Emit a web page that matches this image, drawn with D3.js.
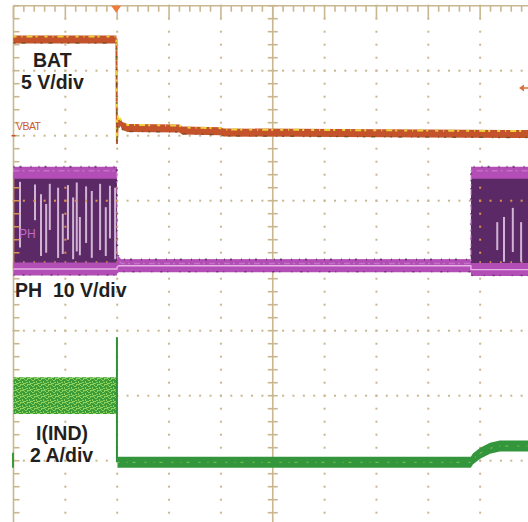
<!DOCTYPE html>
<html><head><meta charset="utf-8">
<script src="https://cdn.jsdelivr.net/npm/d3@7"></script>
<style>html,body{margin:0;padding:0;background:#fff;overflow:hidden}svg{display:block}</style>
</head><body>
<script>
// ---- data (time in divisions, values in channel units) ----
const batT = [0, 1.985, 1.995, 2.01, 2.03, 2.06, 2.1, 2.2, 3.2, 3.25, 4.0, 4.05, 10];
const batV = [7.4, 7.4, -0.6, 1.3, 0.9, 1.05, 0.75, 0.6, 0.55, 0.4, 0.35, 0.25, 0.12]; // volts

const phT  = [0, 1.995, 2.0, 2.03, 2.08, 8.82, 8.825, 10];
const phHi = [14.3, 14.3, 1.0, 0.5, 0.05, 0.05, 14.3, 14.3]; // volts (upper envelope)
const phLo = [-0.5, -0.5, -0.2, 0.0, 0.0, 0.0, -0.6, -0.6];  // volts (lower envelope)
const phStreakT   = [0.125, 0.415, 0.53, 0.63, 0.70, 0.86, 0.95, 1.05, 1.15, 1.22, 1.28, 1.40, 1.51, 1.67, 1.78, 1.86, 1.96, 9.33, 9.46, 9.63, 9.79];
const phStreakTop = [12.9, 12.5, 11.0, 9.5, 12.6, 12.0, 8.0, 12.4, 10.5, 12.8, 7.5, 12.2, 11.5, 12.6, 9.0, 12.3, 12.0, 6.7, 7.5, 8.9, 6.7];
const phStreakBot = [2.8, 7.0, 1.5, 2.0, 5.5, 1.2, 1.8, 4.0, 1.0, 2.2, 1.6, 3.5, 1.2, 2.4, 1.5, 4.2, 1.0, 2.4, 0.6, 2.1, 0.6];

const indNoiseT  = [0, 1.99];
const indNoiseHi = [2.57, 2.57]; // amps
const indNoiseLo = [1.44, 1.44];
const indSpike   = [1.995, 3.8, -0.05]; // t, top, bottom
const indT = [2.005, 8.82, 8.86, 9.0, 9.19, 9.38, 10];
const indA = [-0.05, -0.05, 0.05, 0.23, 0.38, 0.45, 0.45];

const labels = [
  {txt: "BAT", x: 33, y: 67},
  {txt: "5 V/div", x: 21, y: 89},
  {txt: "PH  10 V/div", x: 15, y: 297},
  {txt: "I(IND)", x: 36, y: 440},
  {txt: "2 A/div", x: 30, y: 462}
];
const triggerT = 1.98;
const trigLevelV = 3.67;

// ---- layout ----
const W = 528, H = 522;
const X0 = 13.5, DX = 51.85, Y0 = 5.7, DY = 65;
const x = d3.scaleLinear().domain([0, 10]).range([X0, X0 + 10 * DX]);
const yBat = d3.scaleLinear().domain([0, 5]).range([Y0 + 2 * DY, Y0 + DY]);
const yPh  = d3.scaleLinear().domain([0, 10]).range([Y0 + 4 * DY, Y0 + 3 * DY]);
const yInd = d3.scaleLinear().domain([0, 2]).range([Y0 + 7 * DY, Y0 + 6 * DY]);

// band of constant vertical thickness along a trace (thin on vertical edges, like a scope trace)
const band = (yf, half) => d3.area().x(d => x(d.t)).y0(d => yf(d) + half).y1(d => yf(d) - half);

const svg = d3.select("body").append("svg").attr("width", W).attr("height", H);
const defs = svg.append("defs");
const pat = defs.append("pattern").attr("id", "gnoise").attr("patternUnits", "userSpaceOnUse")
  .attr("width", 7).attr("height", 6);
pat.append("rect").attr("width", 7).attr("height", 6).attr("fill", "#3c9c3a");
[[0,0,3,1],[4,2,2,1],[1,3,1,2],[5,4,2,1],[2,5,3,1],[3,1,1,1],[6,0,1,2]].forEach(r =>
  pat.append("rect").attr("x", r[0]).attr("y", r[1]).attr("width", r[2]).attr("height", r[3]).attr("fill", "#8fd25a"));

// ---- graticule ----
const gc = "#c9b78f";
const grid = svg.append("g");
const minX = DX / 5, minY = DY / 5;
const dots = [];
for (let i = 1; i <= 9; i++) { if (i === 5) continue;
  for (let j = 0; j <= 40; j++) dots.push([x(i), Y0 + j * minY]); }
for (let r = 1; r <= 7; r++) { if (r === 4) continue;
  for (let k = 0; k <= 50; k++) dots.push([X0 + k * minX, Y0 + r * DY]); }
grid.selectAll("rect.dot").data(dots).join("rect").attr("class", "dot")
  .attr("x", d => d[0] - 1).attr("y", d => d[1] - 1).attr("width", 2).attr("height", 2).attr("fill", gc);
const lines = [];
lines.push([X0, Y0, W, Y0]);
lines.push([X0, Y0, X0, H]);
lines.push([x(5), Y0, x(5), H]);
lines.push([X0, Y0 + 4 * DY, W, Y0 + 4 * DY]);
for (let k = 0; k <= 50; k++) {
  const xx = X0 + k * minX;
  lines.push([xx, Y0, xx, Y0 + (k % 5 === 0 ? 13 : 6)]);
  lines.push([xx, Y0 + 4 * DY - 4.5, xx, Y0 + 4 * DY + 4.5]);
}
for (let j = 0; j <= 40; j++) {
  const yy = Y0 + j * minY;
  lines.push([X0, yy, X0 + 6, yy]);
  lines.push([x(5) - 5, yy, x(5) + 5, yy]);
}
grid.selectAll("line").data(lines).join("line")
  .attr("x1", d => d[0]).attr("y1", d => d[1]).attr("x2", d => d[2]).attr("y2", d => d[3])
  .attr("stroke", gc).attr("stroke-width", 1.6);

// ---- PH trace ----
const phPts = phT.map((t, i) => ({t, hi: phHi[i], lo: phLo[i]}));
const phArea = d3.area().x(d => x(d.t)).y0(d => yPh(d.lo)).y1(d => yPh(d.hi));
svg.append("path").datum(phPts).attr("d", phArea).attr("fill", "#5b2a66");
const streaks = phStreakT.map((t, i) => ({t, a: phStreakTop[i], b: phStreakBot[i]}));
svg.selectAll("line.streak").data(streaks).join("line").attr("class", "streak")
  .attr("x1", d => x(d.t)).attr("x2", d => x(d.t)).attr("y1", d => yPh(d.a)).attr("y2", d => yPh(d.b))
  .attr("stroke", "#e6cde8").attr("stroke-width", 2).attr("opacity", 0.85);
defs.append("clipPath").attr("id", "phclip").append("path").datum(phPts).attr("d", phArea);
svg.append("g").attr("clip-path", "url(#phclip)").selectAll("rect").data(dots)
  .join("rect").attr("x", d => d[0] - 1).attr("y", d => d[1] - 1).attr("width", 2).attr("height", 2).attr("fill", "#d9924f");
svg.append("g").attr("clip-path", "url(#phclip)").selectAll("line").data(lines)
  .join("line").attr("x1", d => d[0]).attr("y1", d => d[1]).attr("x2", d => d[2]).attr("y2", d => d[3])
  .attr("stroke", "#d9924f").attr("stroke-width", 1.6);
svg.append("path").datum(phPts).attr("d", band(d => yPh(d.hi), 6)).attr("fill", "#b24eb5");
svg.append("path").datum(phPts).attr("d", band(d => yPh(d.lo), 6.5)).attr("fill", "#b24eb5");
const phHiLine = d3.line().x(d => x(d.t)).y(d => yPh(d.hi));
const phLoLine = d3.line().x(d => x(d.t)).y(d => yPh(d.lo));
svg.append("path").datum(phPts).attr("d", phHiLine).attr("fill", "none").attr("stroke", "#4a1f50")
  .attr("stroke-width", 2).attr("transform", "translate(0,-6)").attr("stroke-dasharray", "1,5,2,9,1,7").attr("opacity", 0.7);
svg.append("path").datum(phPts).attr("d", phHiLine).attr("fill", "none").attr("stroke", "#d28ad4")
  .attr("stroke-width", 1.5).attr("transform", "translate(0,-2)").attr("stroke-dasharray", "6,3,2,4").attr("opacity", 0.6);
svg.append("path").datum(phPts).attr("d", phLoLine).attr("fill", "none").attr("stroke", "#e7b4e6").attr("stroke-width", 1.4);
svg.append("path").datum(phPts).attr("d", phLoLine).attr("fill", "none").attr("stroke", "#3a1840")
  .attr("stroke-width", 1.5).attr("transform", "translate(0,6)").attr("stroke-dasharray", "1,8,2,5,1,11").attr("opacity", 0.6);

// ---- BAT trace ----
const batPts = batT.map((t, i) => ({t, v: batV[i]}));
const batLine = d3.line().x(d => x(d.t)).y(d => yBat(d.v));
svg.append("path").datum(batPts).attr("d", band(d => yBat(d.v), 4)).attr("fill", "#c4532c");
svg.append("path").datum(batPts).attr("d", batLine).attr("fill", "none").attr("stroke", "#c4532c").attr("stroke-width", 2);
svg.append("path").datum(batPts).attr("d", batLine).attr("fill", "none").attr("stroke", "#f1df3c")
  .attr("stroke-width", 2).attr("transform", "translate(0,-3)").attr("stroke-dasharray", "3,5,1,4,6,3,2,7").attr("opacity", 0.9);
svg.append("path").datum(batPts).attr("d", batLine).attr("fill", "none").attr("stroke", "#5a4a20")
  .attr("stroke-width", 1.5).attr("transform", "translate(0,3.5)").attr("stroke-dasharray", "2,6,4,9,1,5").attr("opacity", 0.7);

// ---- I(IND) trace ----
const indN = indNoiseT.map((t, i) => ({t, hi: indNoiseHi[i], lo: indNoiseLo[i]}));
svg.append("path").datum(indN)
  .attr("d", d3.area().x(d => x(d.t)).y0(d => yInd(d.lo)).y1(d => yInd(d.hi)))
  .attr("fill", "url(#gnoise)");
svg.append("line").attr("x1", x(indSpike[0])).attr("x2", x(indSpike[0]))
  .attr("y1", yInd(indSpike[1])).attr("y2", yInd(indSpike[2])).attr("stroke", "#2f8f38").attr("stroke-width", 2);
const indPts = indT.map((t, i) => ({t, a: indA[i]}));
const indLine = d3.line().x(d => x(d.t)).y(d => yInd(d.a));
svg.append("path").datum(indPts).attr("d", band(d => yInd(d.a), 5.5)).attr("fill", "#34963c");
svg.append("path").datum(indPts).attr("d", indLine).attr("fill", "none").attr("stroke", "#8fd25a")
  .attr("stroke-width", 1).attr("stroke-dasharray", "2,7,1,5,3,9").attr("opacity", 0.8);

// ---- markers ----
const tx = x(triggerT);
svg.append("path").attr("d", `M${tx - 5},${Y0} L${tx + 5},${Y0} L${tx},${Y0 + 7} Z`).attr("fill", "#f07a3a");
const ay = yBat(trigLevelV);
svg.append("path").attr("d", `M${W - 9},${ay} L${W - 4},${ay - 3.5} L${W - 4},${ay + 3.5} Z M${W - 5},${ay - 0.7} h6 v1.4 h-6 Z`).attr("fill", "#e0703a");
svg.append("line").attr("x1", X0 - 2).attr("x2", X0 + 2).attr("y1", yBat(0)).attr("y2", yBat(0)).attr("stroke", "#d0502a").attr("stroke-width", 1.5);
svg.append("rect").attr("x", X0 - 1.5).attr("y", yInd(0) - 8).attr("width", 2).attr("height", 15).attr("fill", "#3a9a3a");
svg.append("text").attr("x", 16).attr("y", 130).text("VBAT").attr("font-family", "Liberation Sans, Arial, sans-serif")
  .attr("font-size", 10.5).attr("fill", "#cc5a2e").attr("textLength", 25);
svg.append("text").attr("x", 19).attr("y", 238).text("PH").attr("font-family", "Liberation Sans, Arial, sans-serif")
  .attr("font-size", 12).attr("fill", "#c06ac4");

// ---- labels ----
svg.selectAll("text.lbl").data(labels).join("text").attr("class", "lbl")
  .attr("x", d => d.x).attr("y", d => d.y).text(d => d.txt)
  .attr("font-family", "Liberation Sans, Arial, sans-serif").attr("font-weight", "bold")
  .attr("font-size", 19.5).attr("fill", "#231f20").style("white-space", "pre");
</script>
</body></html>
